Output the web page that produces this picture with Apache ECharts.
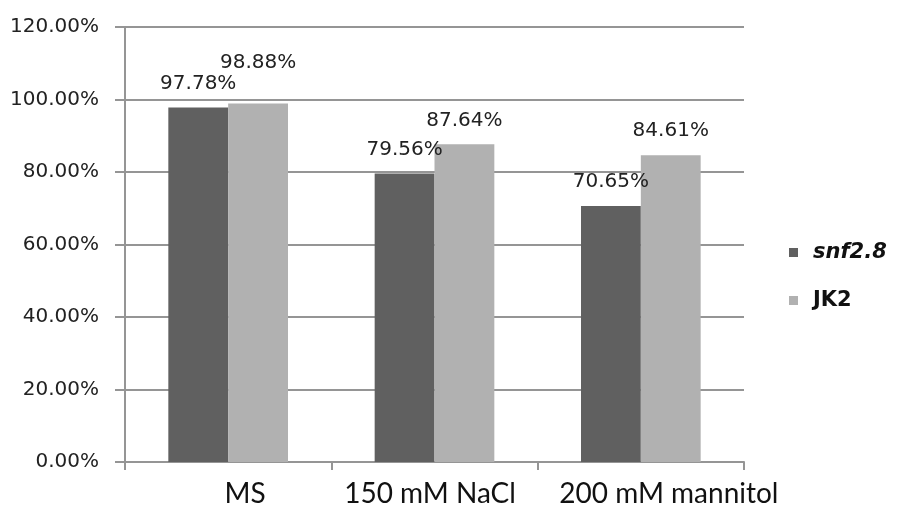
<!DOCTYPE html>
<html>
<head>
<meta charset="utf-8">
<script src="https://cdn.jsdelivr.net/npm/echarts@6/dist/echarts.min.js"></script>
<style>html,body{margin:0;padding:0;background:#fff}#c{width:899px;height:508px}</style>
</head>
<body>
<div id="c"></div>
<script>
const categories = ['MS', '150 mM NaCl', '200 mM mannitol'];
const snf28 = [97.78, 79.56, 70.65];
const jk2 = [98.88, 87.64, 84.61];
const yTicks = [0, 20, 40, 60, 80, 100, 120];

const chart = echarts.init(document.getElementById('c'));
const pct = v => Number(v).toFixed(2) + '%';
const labelStyle = {
  show: true, position: 'top', distance: 14,
  fontFamily: 'DejaVu Sans', fontSize: 20, color: '#222',
  formatter: p => pct(p.value)
};
chart.setOption({
  animation: false,
  grid: { left: 125, right: 155, top: 27, bottom: 45, containLabel: false },
  legend: {
    orient: 'vertical', left: 784, top: 237,
    itemWidth: 9, itemHeight: 9, itemGap: 27,
    icon: 'rect',
    textStyle: { fontFamily: 'DejaVu Sans', fontWeight: 'bold', fontSize: 21, color: '#111', padding: [0, 0, 0, 10] },
    data: [{ name: 'snf2.8', textStyle: { fontStyle: 'italic' } }, 'JK2']
  },
  xAxis: {
    type: 'category', data: categories,
    axisLine: { lineStyle: { color: '#959595', width: 2 } },
    axisTick: { show: true, length: 8, lineStyle: { color: '#959595', width: 2 } },
    axisLabel: {
      margin: 18, interval: 0,
      formatter: (v, i) => '{c' + i + '|' + v + '}',
      rich: {
        c0: { fontFamily: 'Lato', fontSize: 28, color: '#111', padding: [0, 0, 0, 34] },
        c1: { fontFamily: 'Lato', fontSize: 28, color: '#111', padding: [0, 9, 0, 0] },
        c2: { fontFamily: 'Lato', fontSize: 28, color: '#111', padding: [0, 0, 0, 56] }
      }
    }
  },
  yAxis: {
    type: 'value', min: yTicks[0], max: yTicks[yTicks.length - 1], interval: yTicks[1] - yTicks[0],
    axisLine: { show: true, lineStyle: { color: '#959595', width: 2 } },
    axisTick: { show: true, length: 10, lineStyle: { color: '#959595', width: 2 } },
    splitLine: { lineStyle: { color: '#959595', width: 2 } },
    axisLabel: { margin: 26, fontFamily: 'DejaVu Sans', fontSize: 20, color: '#222', formatter: v => pct(v) }
  },
  series: [
    {
      name: 'snf2.8', type: 'bar', data: snf28,
      barGap: '0%', barCategoryGap: '42%',
      itemStyle: { color: '#606060' },
      label: labelStyle
    },
    {
      name: 'JK2', type: 'bar',
      data: jk2.map((v, i) => i === 0 ? { value: v, label: { distance: 31 } } : v),
      itemStyle: { color: '#b1b1b1' },
      label: labelStyle
    }
  ]
});
</script>
</body>
</html>
